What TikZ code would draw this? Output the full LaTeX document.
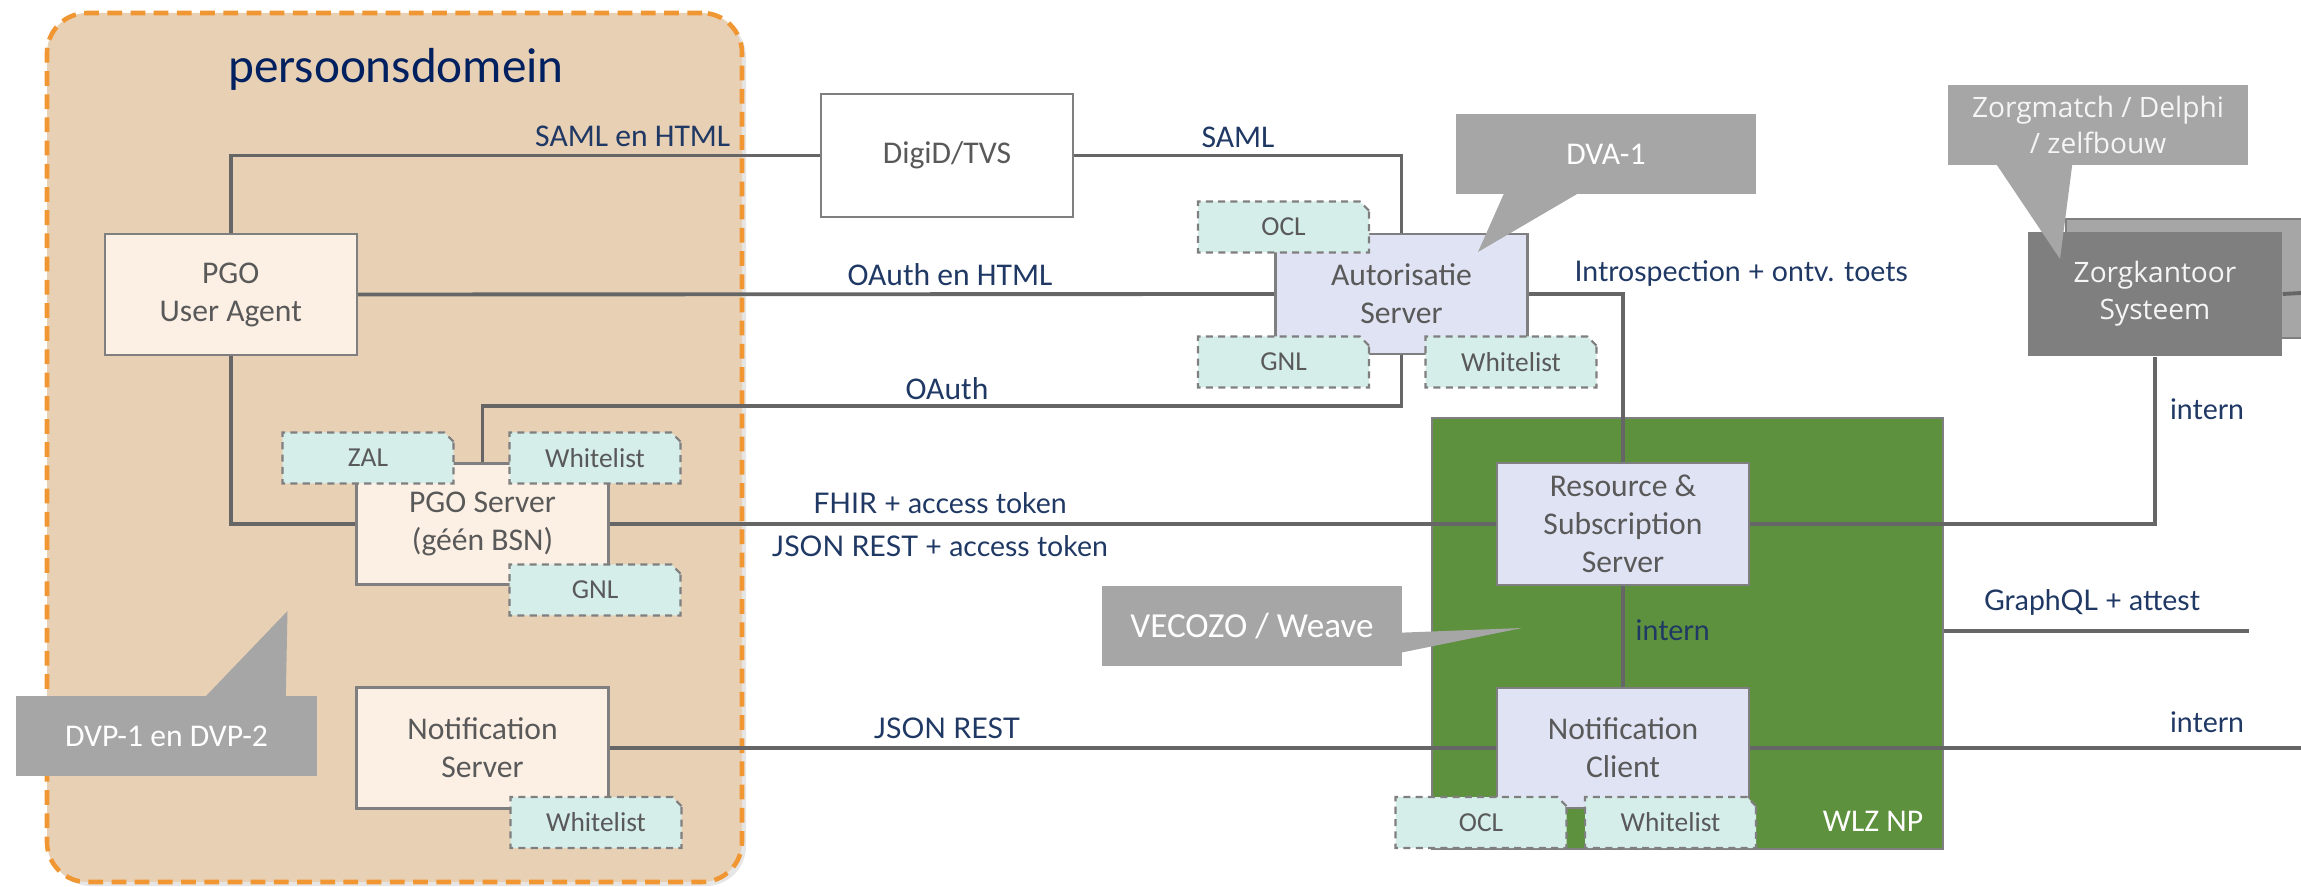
\documentclass[tikz,border=0pt]{standalone}
\usepackage{fontspec}
\setmainfont{Carlito}
\newfontfamily\latofont{Lato}
\newfontfamily\opensansfont{Open Sans}
\usepackage{xcolor}
\usetikzlibrary{shapes.misc,positioning,shadows}

\definecolor{domainfill}{RGB}{232,208,180}
\definecolor{domainedge}{RGB}{240,150,50}
\definecolor{creamfill}{RGB}{252,240,228}
\definecolor{lavfill}{RGB}{224,227,243}
\definecolor{mintfill}{RGB}{213,238,234}
\definecolor{wlzgreen}{RGB}{94,145,62}
\definecolor{boxedge}{RGB}{127,127,127}
\definecolor{linegray}{RGB}{102,102,102}
\definecolor{textgray}{RGB}{89,89,89}
\definecolor{labelnavy}{RGB}{31,56,100}
\definecolor{titlenavy}{RGB}{0,32,96}
\definecolor{notegray}{RGB}{166,166,166}
\definecolor{zkgray}{RGB}{127,127,127}
\definecolor{softwhite}{RGB}{245,245,245}

\pgfdeclarelayer{bottom}
\pgfdeclarelayer{wires}
\pgfsetlayers{bottom,wires,main}

\begin{document}
\begin{tikzpicture}[
    sysbox/.style={rectangle, draw=boxedge, line width=0.7pt, minimum width=2.52cm, minimum height=1.21cm, inner sep=1pt, align=center, text=textgray, font=\fontsize{9}{10.8}\selectfont},
    pgobox/.style={sysbox, fill=creamfill},
    npbox/.style={sysbox, fill=lavfill},
    tag/.style={chamfered rectangle, chamfered rectangle corners=north east, chamfered rectangle sep=1.3pt, draw=boxedge, line width=0.6pt, dash pattern=on 2pt off 1.5pt, fill=mintfill, minimum width=1.71cm, minimum height=0.51cm, inner sep=0pt, text=textgray, font=\fontsize{7.8}{9}\selectfont},
    bubble/.style={rectangle, fill=notegray, minimum width=3cm, minimum height=0.8cm, align=center, text=white, font=\fontsize{9}{10.8}\selectfont},
    link/.style={draw=linegray, line width=1.1pt},
    lbl/.style={text=labelnavy, inner sep=0pt, font=\fontsize{9}{11}\selectfont},
    latolbl/.style={text=labelnavy, inner sep=0pt, font=\latofont\fontsize{8.1}{10}\selectfont}
]
\useasboundingbox (0,0) rectangle (23.01,8.86);

% Domains
\begin{pgfonlayer}{bottom}
\node[rectangle, rounded corners=0.4cm, fill=domainfill, draw=domainedge, line width=1.3pt, dash pattern=on 4.2pt off 2.4pt, minimum width=6.95cm, minimum height=8.69cm, drop shadow={opacity=0.2, shadow xshift=0.04cm, shadow yshift=-0.04cm}] (persoon) at (3.945,4.385) {};
\node[rectangle, fill=wlzgreen, draw=boxedge, line width=0.7pt, minimum width=5.11cm, minimum height=4.31cm] (wlz) at (16.875,2.525) {};
\node[rectangle, fill=notegray, draw=boxedge, line width=0.7pt, minimum width=2.8cm, minimum height=1.19cm, anchor=north west] (zkback) at (20.65,6.68) {};
\end{pgfonlayer}

\node[text=titlenavy, font=\fontsize{14}{16}\selectfont] (title) at (3.96,8.17) {persoonsdomein};

% Persoonsdomein
\node[pgobox] (ua) at (2.3075,5.915) {PGO\\User Agent};
\node[pgobox] (pgo) at (4.825,3.62) {PGO Server\\(géén BSN)};
\node[pgobox] (ns) at (4.825,1.38) {Notification\\Server};
\node[tag] (zal) at (3.68,4.28) {ZAL};
\node[tag] (pgowl) at (5.95,4.28) {Whitelist};
\node[tag] (pgognl) at (5.95,2.96) {GNL};
\node[tag] (nswl) at (5.96,0.635) {Whitelist};

% DigiD and Autorisatie
\node[sysbox, fill=white, minimum height=1.23cm] (digid) at (9.47,7.305) {DigiD/TVS};
\node[npbox, minimum height=1.20cm] (auth) at (14.015,5.92) {Autorisatie\\Server};
\node[tag] (authocl) at (12.835,6.59) {OCL};
\node[tag] (authgnl) at (12.835,5.24) {GNL};
\node[tag] (authwl) at (15.11,5.24) {Whitelist};

% WLZ NP
\node[npbox, minimum height=1.22cm] (res) at (16.23,3.62) {Resource \&\\Subscription\\Server};
\node[npbox, minimum height=1.20cm] (nc) at (16.23,1.38) {Notification\\Client};
\node[tag] (ncocl) at (14.81,0.635) {OCL};
\node[tag] (ncwl) at (16.705,0.635) {Whitelist};
\node[text=white, font=\fontsize{9}{10.8}\selectfont] (wlzname) at (18.73,0.65) {WLZ NP};

% Zorgkantoor
\node[rectangle, fill=zkgray, minimum width=2.54cm, minimum height=1.24cm, align=center, text=softwhite, font=\opensansfont\fontsize{8}{10.6}\selectfont] (zk) at (21.55,5.92) {Zorgkantoor\\Systeem};

% Free ends
\coordinate (gqlend) at (22.49,2.55);
\coordinate (ncend) at (23.01,1.38);
\coordinate (zkend) at (23.01,5.93);

% Connectors
\begin{pgfonlayer}{wires}
\draw[link] (ua.north) |- (digid.west);
\draw[link] (digid.east) -| (auth.north);
\draw[link] (ua.east) -- (auth.west);
\draw[link] (ua.south) |- (pgo.west);
\draw[link] (pgo.north) -- ++(0,0.56) -| (auth.south);
\draw[link] (pgo.east) -- (res.west);
\draw[link] (auth.east) -| (res.north);
\draw[link] (res.south) -- (nc.north);
\draw[link] (ns.east) -- (nc.west);
\draw[link] (res.east) -| (zk.south);
\draw[link] (wlz.east |- gqlend) -- (gqlend);
\draw[link] (nc.east) -- (ncend);
\draw[link] (zk.east) -- (zkend);
\end{pgfonlayer}

% Labels
\node[lbl, anchor=east] (lsamlhtml) at (7.31,7.50) {SAML en HTML};
\node[lbl] (lsaml) at (12.38,7.49) {SAML};
\node[lbl] (loauthhtml) at (9.50,6.11) {OAuth en HTML};
\node[lbl] (loauth) at (9.47,4.97) {OAuth};
\node[latolbl, anchor=west] (lintro) at (15.74,6.12) {Introspection + ontv. toets};
\node[latolbl] (lfhir) at (9.40,3.83) {FHIR + access token};
\node[latolbl] (ljsontoken) at (9.40,3.40) {JSON REST + access token};
\node[latolbl, anchor=west] (linternwlz) at (16.35,2.56) {intern};
\node[latolbl] (ljson) at (9.47,1.58) {JSON REST};
\node[latolbl] (linternzk) at (22.07,4.77) {intern};
\node[latolbl] (lgraphql) at (20.92,2.84) {GraphQL + attest};
\node[latolbl] (linternnc) at (22.07,1.64) {intern};

% Callouts
\node[bubble] (dvp) at (1.665,1.50) {DVP-1 en DVP-2};
\fill[notegray] ([xshift=1.89cm,yshift=-0.02cm]dvp.north west) -- (2.875,2.75) -- ([xshift=2.70cm,yshift=-0.02cm]dvp.north west) -- cycle;
\node[bubble] (dva) at (16.06,7.32) {DVA-1};
\fill[notegray] ([xshift=0.49cm,yshift=0.02cm]dva.south west) -- (14.78,6.34) -- ([xshift=1.24cm,yshift=0.02cm]dva.south west) -- cycle;
\node[bubble, font=\fontsize{10}{12}\selectfont] (vecozo) at (12.52,2.60) {VECOZO / Weave};
\fill[notegray] ([xshift=-0.02cm,yshift=0.34cm]vecozo.south east) -- (15.22,2.58) -- ([xshift=-0.02cm,yshift=0.14cm]vecozo.south east) -- cycle;
\node[bubble, minimum height=0.78cm, text=softwhite, font=\opensansfont\fontsize{8}{10.2}\selectfont] (zorgmatch) at (20.98,7.61) {Zorgmatch / Delphi\\/ zelfbouw};
\fill[notegray] ([xshift=0.49cm,yshift=0.02cm]zorgmatch.south west) -- (20.60,6.27) -- ([xshift=1.25cm,yshift=0.02cm]zorgmatch.south west) -- cycle;

\end{tikzpicture}
\end{document}
